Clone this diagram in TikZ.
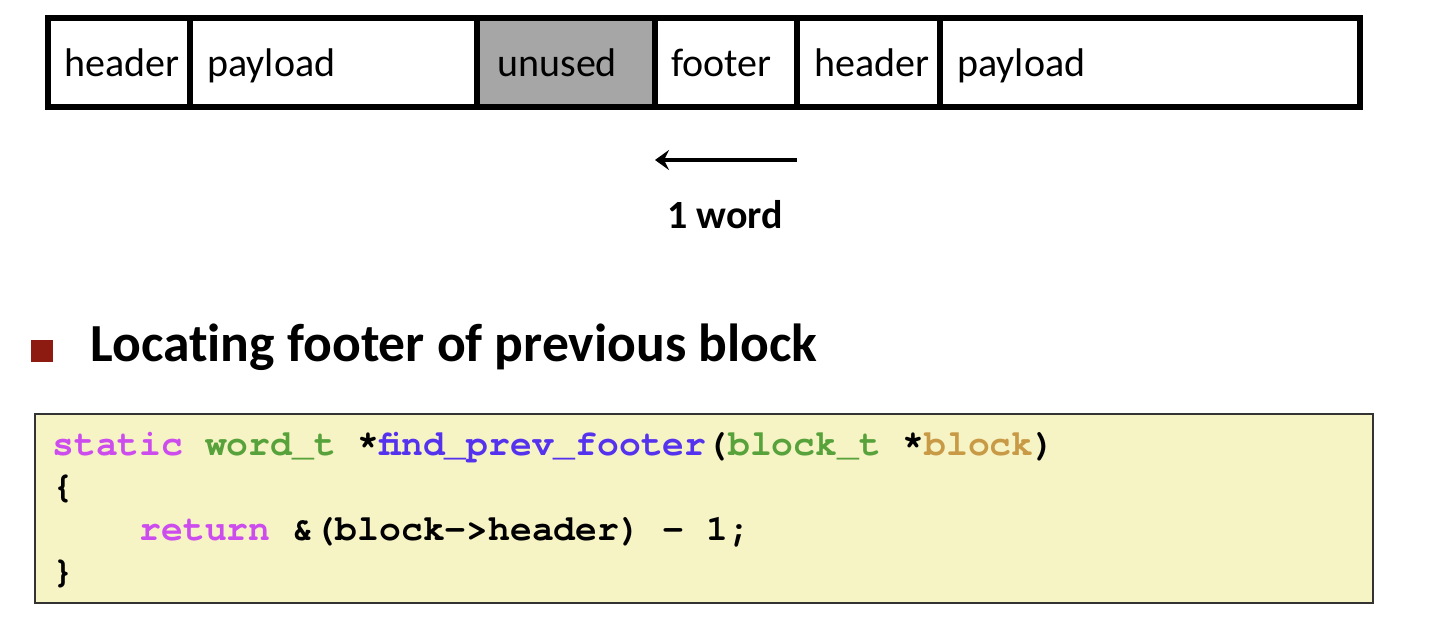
\documentclass[tikz,border=0pt]{standalone}
\usepackage{fontspec}
\setmainfont{Carlito}[Ligatures=NoCommon]
\newfontfamily\codefont{TeX Gyre Cursor}
\usetikzlibrary{arrows.meta}
\definecolor{unusedgray}{HTML}{A6A6A6}
\definecolor{codebg}{HTML}{F6F3C4}
\definecolor{kwmag}{HTML}{CC4CEE}
\definecolor{typegreen}{HTML}{58A23C}
\definecolor{fnblue}{HTML}{5533EE}
\definecolor{paramgold}{HTML}{C89A45}
\definecolor{bulletred}{HTML}{8E1B12}
\begin{document}
\begin{tikzpicture}[x=0.5pt,y=-0.5pt,
  cell/.style={draw=black,line width=3.4pt},
  celltext/.style={anchor=base west,inner sep=0pt,font=\fontsize{20}{22}\selectfont},
  codeline/.style={anchor=base west,inner sep=0pt,font=\codefont\bfseries\fontsize{18.17}{20}\selectfont},
]
\useasboundingbox (0,0) rectangle (1432,642);
% memory strip
\fill[unusedgray] (477,18) rectangle (655,107);
\draw[cell] (48,18) rectangle (1360,107);
\foreach \xx in {190,477,655,797,940} \draw[cell] (\xx,18) -- (\xx,107);
\node[celltext] (h1) at (64,77) {header};
\node[celltext] (p1) at (207,77) {payload};
\node[celltext] (u1) at (497,77) {unused};
\node[celltext] (f1) at (671,77) {footer};
\node[celltext] (h2) at (814,77) {header};
\node[celltext] (p2) at (957,77) {payload};
% arrow
\coordinate (ar) at (797,160);
\coordinate (al) at (655,160);
\draw[line width=1.8pt,-{Stealth[length=7pt,width=10pt,inset=2.5pt]}] (ar) -- (al);
\node[anchor=base,inner sep=0pt,font=\bfseries\fontsize{20}{22}\selectfont] (word) at (725,229) {1 word};
% bullet + title
\fill[bulletred] (31,340) rectangle (53,362);
\node[anchor=base west,inner sep=0pt,font=\bfseries\fontsize{26.8}{30}\selectfont] (title) at (90,362) {Locating footer of previous block};
% code box
\draw[fill=codebg,draw=black!80,line width=1pt] (35,414) rectangle (1373,603);
\node[codeline] (c1) at (52,455) {\textcolor{kwmag}{static} \textcolor{typegreen}{word\_t} *\textcolor{fnblue}{find\_prev\_footer}(\textcolor{typegreen}{block\_t} *\textcolor{paramgold}{block})};
\node[codeline] (c2) at (52,497.5) {\{};
\node[codeline] (c3) at (52,540) {\phantom{xxxx}\textcolor{kwmag}{return} \&(block->header) - 1;};
\node[codeline] (c4) at (52,582.5) {\}};
\end{tikzpicture}
\end{document}
